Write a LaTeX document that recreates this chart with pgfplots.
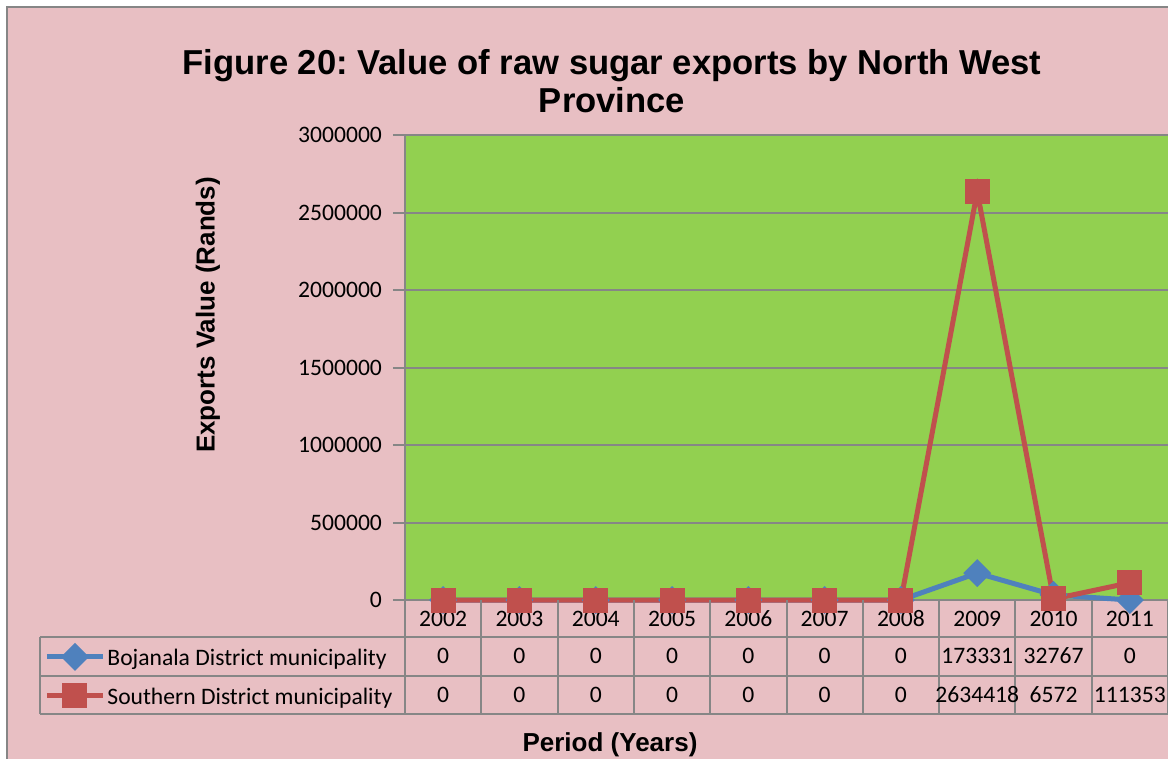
\documentclass[border=0pt]{standalone}
\usepackage{pgfplots}
\pgfplotsset{compat=1.18}
\usepackage{fontspec}
\setmainfont{Carlito}
\newfontfamily\arial{Liberation Sans}
\frenchspacing
\definecolor{bgpink}{RGB}{232,191,195}
\definecolor{plotgreen}{RGB}{146,208,80}
\definecolor{serred}{RGB}{192,80,77}
\definecolor{serblue}{RGB}{79,129,189}
\definecolor{gridgray}{RGB}{134,134,134}
\begin{document}
\begin{tikzpicture}
\useasboundingbox (0pt,0pt) rectangle (584pt,-379.5pt);
\begin{scope}[x=0.5pt,y=-0.5pt]
\fill[white] (0,0) rectangle (1168,759);
\fill[bgpink] (7,7) rectangle (1180,770);
\draw[gridgray, line width=1.2pt] (7,770) -- (7,7) -- (1180,7);
\end{scope}
\begin{axis}[
  at={(202.5pt,-300pt)}, anchor=south west,
  scale only axis, width=381.5pt, height=232.5pt,
  xmin=-0.5, xmax=9.5, ymin=0, ymax=3000000,
  axis background/.style={fill=plotgreen},
  axis x line*=bottom, axis y line*=left,
  axis line style={gridgray, line width=1pt, -},
  ymajorgrids, grid style={gridgray, line width=1pt},
  ytick={0,500000,1000000,1500000,2000000,2500000,3000000},
  scaled y ticks=false,
  yticklabel style={/pgf/number format/fixed, /pgf/number format/1000 sep={}, /pgf/number format/assume math mode=true, xshift=-2pt},
  tick label style={font=\fontsize{11.8}{14}\selectfont, text=black},
  tick align=outside, major tick length=6pt,
  tick style={gridgray, line width=1pt},
  xtick={0,...,9},
  xticklabels={2002,2003,2004,2005,2006,2007,2008,2009,2010,2011},
  x tick style={draw=none},
  xticklabel style={anchor=center, yshift=-3.5pt},
  clip=false,
  legend entries={Bojanala District municipality, Southern District municipality},
  legend cell align=left,
  legend style={at={(-0.4731,-0.0968)}, anchor=north west, draw=none, fill=none,
    inner sep=0pt, row sep=0pt, column sep=1pt,
    font=\fontsize{11.8}{14}\selectfont,
    nodes={inner sep=0pt, text height=10pt, text depth=9.5pt}},
  legend image code/.code={\draw[yshift=4pt, mark repeat=2, mark phase=2, #1] plot coordinates {(0pt,0pt)(14pt,0pt)(28pt,0pt)};},
]
\addplot[serblue, line width=2.5pt, mark=square*, mark size=3.7pt, mark options={solid, rotate=45}]
  coordinates {(0,0)(1,0)(2,0)(3,0)(4,0)(5,0)(6,0)(7,173331)(8,32767)(9,0)};
\addplot[serred, line width=2.5pt, mark=square*, mark size=5pt, mark options={solid}]
  coordinates {(0,0)(1,0)(2,0)(3,0)(4,0)(5,0)(6,0)(7,2634418)(8,6572)(9,111353)};
\end{axis}
\begin{scope}[x=0.5pt,y=-0.5pt]
% data table grid
\draw[gridgray, line width=1pt] (40,637) -- (1180,637);
\draw[gridgray, line width=1pt] (40,676) -- (1180,676);
\draw[gridgray, line width=1pt] (40,714) -- (1180,714);
\draw[gridgray, line width=1pt] (40,637) -- (40,714);
\foreach \k in {0,...,10} {
  \draw[gridgray, line width=1pt] ({405+76.3*\k},600) -- ({405+76.3*\k},714);
}
\foreach \v [count=\i from 0] in {0,0,0,0,0,0,0,173331,32767,0} {
  \node[font=\fontsize{11.8}{14}\selectfont, inner sep=0pt] at ({405+76.3*\i+38.15},656) {\v};
}
\foreach \v [count=\i from 0] in {0,0,0,0,0,0,0,2634418,6572,111353} {
  \node[font=\fontsize{11.8}{14}\selectfont, inner sep=0pt] at ({405+76.3*\i+38.15},695) {\v};
}
\node[font=\arial\bfseries\fontsize{17.3}{19}\selectfont, align=center] at (612,81)
  {Figure 20: Value of raw sugar exports by North West\\Province};
\node[font=\arial\bfseries\fontsize{13}{15}\selectfont, rotate=90] at (208,315) {Exports Value (Rands)};
\node[font=\arial\bfseries\fontsize{13}{15}\selectfont] at (610,745) {Period (Years)};
\end{scope}
\end{tikzpicture}
\end{document}
